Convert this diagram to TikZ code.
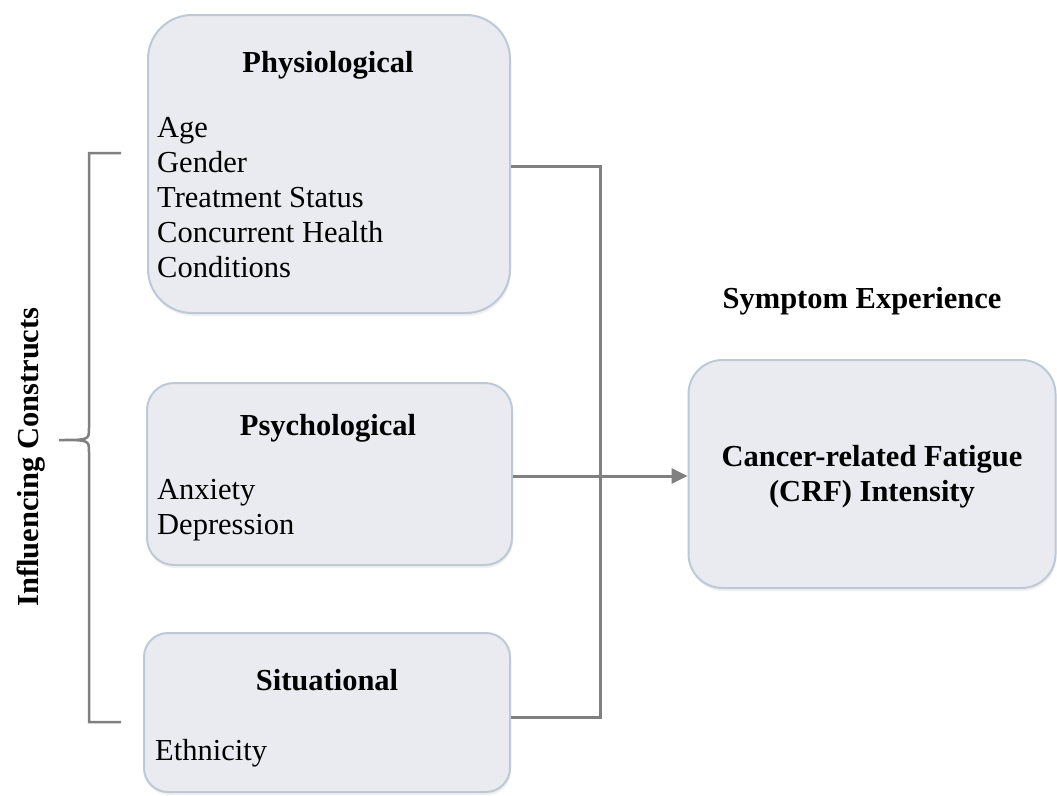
\documentclass[tikz,border=0pt]{standalone}
\usepackage{fontspec}
\setmainfont{Liberation Serif}
\usetikzlibrary{arrows.meta,shadows}
\definecolor{boxfill}{RGB}{233,235,240}
\definecolor{boxline}{RGB}{190,200,215}
\definecolor{linkgray}{RGB}{128,128,128}

\begin{document}
\begin{tikzpicture}[x=1pt, y=-1pt,
        every node/.style={font=\fontsize{30.5}{34.8}\selectfont, inner sep=0pt},
        box/.style={rectangle, draw=boxline, fill=boxfill, line width=2pt,
            drop shadow={opacity=0.12, shadow xshift=1pt, shadow yshift=-3pt}},
        title/.style={font=\fontsize{30.5}{34.8}\selectfont\bfseries, anchor=base},
        items/.style={align=left, anchor=base west},
        link/.style={draw=linkgray, line width=3pt}
    ]
        \useasboundingbox (0,0) rectangle (1057,795);

        % Kasten
        \node[box, rounded corners=44pt, minimum width=362pt, minimum height=298pt] (phys) at (329,164) {};
        \node[box, rounded corners=27pt, minimum width=365pt, minimum height=182pt] (psych) at (329.5,474) {};
        \node[box, rounded corners=24pt, minimum width=366pt, minimum height=159pt] (situ) at (327,712.5) {};
        \node[box, rounded corners=34pt, minimum width=367pt, minimum height=228pt] (crf) at (872,474) {};

        % Texte (Basislinie der letzten Zeile)
        \node[title] (physT) at (328,72) {Physiological};
        \node[items] (physL) at (157,277) {Age\\Gender\\Treatment Status\\Concurrent Health\\Conditions};
        \node[title] (psychT) at (328,435) {Psychological};
        \node[items] (psychL) at (157,534) {Anxiety\\Depression};
        \node[title] (situT) at (327,690) {Situational};
        \node[items] (situL) at (155,760) {Ethnicity};

        \node[title] (sympT) at (862,308) {Symptom Experience};
        \node[font=\fontsize{30.5}{34.8}\selectfont\bfseries, align=center] (crfT) at (872,477) {Cancer-related Fatigue\\(CRF) Intensity};

        \node[title, rotate=90, anchor=center] (inflT) at (31,457) {Influencing Constructs};

        % Verbindungen
        \coordinate (join) at (600,474);
        \draw[link] ([yshift=-2pt]phys.east) -| (join) |- ([yshift=-4.5pt]situ.east);
        \draw[link, -{Triangle[length=16pt, width=15pt]}] ([yshift=-2pt]psych.east) -- ([yshift=-2pt]crf.west);

        % Klammer
        \coordinate (braceTop) at (121,153);
        \coordinate (braceBot) at (121,722);
        \coordinate (braceTip) at (59,440);
        \draw[link, line width=2.5pt]
            (braceTop) -- (89,153) -- (89,428) .. controls (89,440) .. (braceTip)
            (braceBot) -- (89,722) -- (89,452) .. controls (89,440) .. (braceTip);
    \end{tikzpicture}
\end{document}
